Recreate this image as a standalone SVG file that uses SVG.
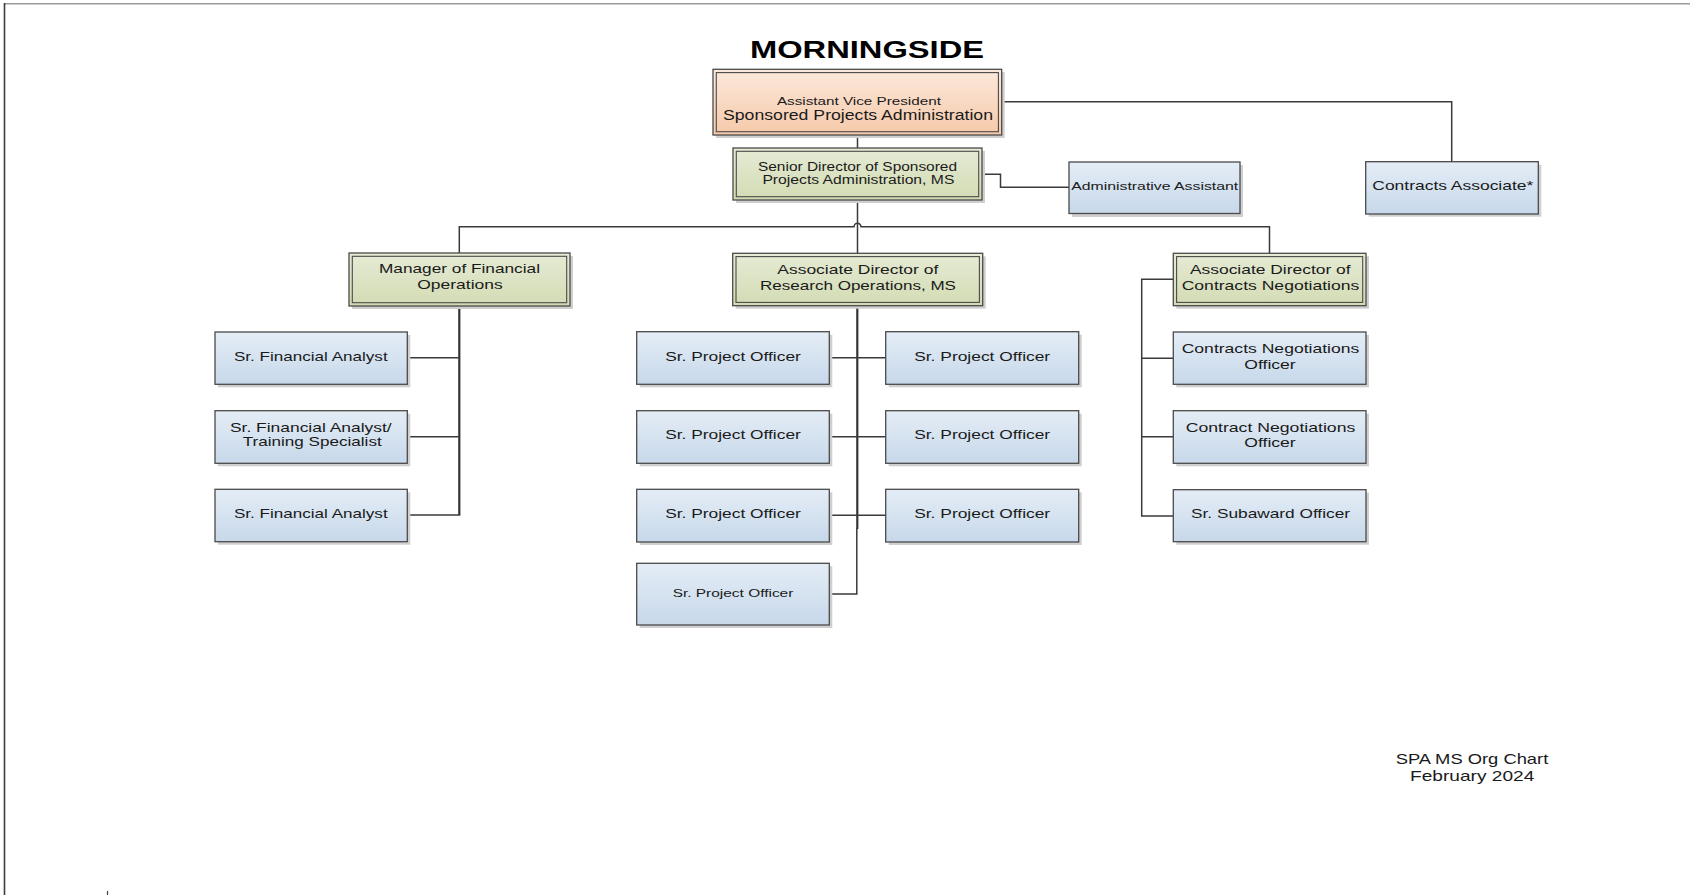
<svg xmlns="http://www.w3.org/2000/svg" width="1690" height="895" viewBox="0 0 1690 895">
<defs>
<linearGradient id="gOr" x1="0" y1="0" x2="0" y2="1"><stop offset="0" stop-color="#fce9dc"/><stop offset="1" stop-color="#f5c9a9"/></linearGradient>
<linearGradient id="gGr" x1="0" y1="0" x2="0" y2="1"><stop offset="0" stop-color="#e6ebd5"/><stop offset="1" stop-color="#d2dbb3"/></linearGradient>
<linearGradient id="gBl" x1="0" y1="0" x2="0" y2="1"><stop offset="0" stop-color="#e4edf6"/><stop offset="1" stop-color="#c7d8ea"/></linearGradient>
</defs>
<style>
.sh{fill:#cfcfcf}
.o{stroke:#4a4a4a;stroke-width:1.3}
.in{fill:none;stroke:#4a4a4a;stroke-width:1.1}
.or{fill:url(#gOr)}
.gr{fill:url(#gGr)}
.bl{fill:url(#gBl)}
text{font-family:"Liberation Sans",Arial,sans-serif;fill:#1a1a1a;text-anchor:middle}
.t13{font-size:13px}
.t12{font-size:12px}
.t11{font-size:11px}
.cn{fill:none;stroke:#3a3a3a;stroke-width:1.5}
.cnb{fill:none;stroke:#333;stroke-width:2.2}
</style>
<rect x="0" y="0" width="1690" height="895" fill="#ffffff"/>
<g id="frame">
<line x1="4" y1="3.8" x2="1690" y2="3.8" stroke="#9a9a9a" stroke-width="1.5"/>
<line x1="4.5" y1="3" x2="4.5" y2="895" stroke="#3c3c3c" stroke-width="1.6"/>
<line x1="107.5" y1="891" x2="107.5" y2="895" stroke="#3c3c55" stroke-width="1.2"/>
</g>
<text id="title" x="867" y="58" font-size="24" font-weight="bold" textLength="234" lengthAdjust="spacingAndGlyphs" style="fill:#000">MORNINGSIDE</text>

<g id="connectors">
<path class="cn" d="M857.5,135 V148"/>
<path class="cn" d="M1001.7,101.7 H1451.7 V161.7"/>
<path class="cn" d="M982,174.3 H1000.5 V187.3 H1069"/>
<path class="cn" d="M857.5,200 V253.3"/>
<path class="cn" d="M459.3,253 V226.7 H854 A3.5,3.5 0 0 1 861,226.7 H1269.5 V253.3"/>
<path class="cnb" d="M459.3,306 V515"/>
<path class="cn" d="M407.3,357.7 H459.3 M407.3,436.7 H459.3 M407.3,515 H460.3"/>
<path class="cnb" d="M857.3,305.7 V529"/>
<path class="cn" d="M856.8,528 V594 H829.3"/>
<path class="cn" d="M829.3,357.7 H885.7 M829.3,436.7 H885.7 M829.3,515.3 H885.7"/>
<path class="cn" d="M1173.3,279.3 H1141.7 V516 H1173.3 M1141.7,358.3 H1173.3 M1141.7,436.7 H1173.3"/>
</g>

<g id="avp">
<rect class="sh" x="716" y="72" width="288.7" height="66"/>
<rect class="o or" x="713" y="69.3" width="288.7" height="65.7"/>
<rect class="in" x="716.3" y="72.6" width="282.1" height="59.1"/>
<text class="t11" x="858.9" y="105" textLength="164" lengthAdjust="spacingAndGlyphs">Assistant Vice President</text>
<text x="858" y="120" font-size="14" textLength="270" lengthAdjust="spacingAndGlyphs">Sponsored Projects Administration</text>
</g>

<g id="senior">
<rect class="sh" x="736" y="151" width="249" height="52"/>
<rect class="o gr" x="733" y="148" width="249" height="52"/>
<rect class="in" x="736.3" y="151.3" width="242.4" height="45.4"/>
<text class="t12" x="857.5" y="171" textLength="199" lengthAdjust="spacingAndGlyphs">Senior Director of Sponsored</text>
<text class="t12" x="858.4" y="184" textLength="192" lengthAdjust="spacingAndGlyphs">Projects Administration, MS</text>
</g>

<g id="admin">
<rect class="sh" x="1072" y="165" width="171" height="52"/>
<rect class="o bl" x="1069" y="162" width="171" height="51.5"/>
<text class="t11" x="1154.7" y="190" textLength="167" lengthAdjust="spacingAndGlyphs">Administrative Assistant</text>
</g>

<g id="contracts-associate">
<rect class="sh" x="1368.7" y="164.7" width="172.6" height="52"/>
<rect class="o bl" x="1365.7" y="161.7" width="172.6" height="52.3"/>
<text class="t13" x="1452.8" y="190" textLength="161" lengthAdjust="spacingAndGlyphs">Contracts Associate*</text>
</g>

<g id="mfo">
<rect class="sh" x="352" y="256" width="221" height="53"/>
<rect class="o gr" x="349" y="253" width="221" height="53"/>
<rect class="in" x="352.3" y="256.3" width="214.4" height="46.4"/>
<text class="t13" x="459.5" y="273.3" textLength="161" lengthAdjust="spacingAndGlyphs">Manager of Financial</text>
<text class="t13" x="460" y="289.3" textLength="85.4" lengthAdjust="spacingAndGlyphs">Operations</text>
</g>

<g id="sfa1">
<rect class="sh" x="218" y="335" width="192.3" height="52.3"/>
<rect class="o bl" x="215" y="332" width="192.3" height="52.3"/>
<text class="t13" x="310.8" y="360.7" textLength="153.7" lengthAdjust="spacingAndGlyphs">Sr. Financial Analyst</text>
</g>
<g id="sfa2">
<rect class="sh" x="218" y="413.7" width="192.3" height="52.6"/>
<rect class="o bl" x="215" y="410.7" width="192.3" height="52.6"/>
<text class="t13" x="310.8" y="431.7" textLength="161.7" lengthAdjust="spacingAndGlyphs">Sr. Financial Analyst/</text>
<text class="t13" x="312.2" y="446" textLength="139" lengthAdjust="spacingAndGlyphs">Training Specialist</text>
</g>
<g id="sfa3">
<rect class="sh" x="218" y="492.3" width="192.3" height="52.4"/>
<rect class="o bl" x="215" y="489.3" width="192.3" height="52.4"/>
<text class="t13" x="310.8" y="518.3" textLength="153.7" lengthAdjust="spacingAndGlyphs">Sr. Financial Analyst</text>
</g>

<g id="adro">
<rect class="sh" x="735.7" y="256.3" width="250" height="52.4"/>
<rect class="o gr" x="732.7" y="253.3" width="250" height="52.4"/>
<rect class="in" x="736" y="256.6" width="243.4" height="45.8"/>
<text class="t13" x="857.8" y="274" textLength="161" lengthAdjust="spacingAndGlyphs">Associate Director of</text>
<text class="t13" x="858" y="290" textLength="196" lengthAdjust="spacingAndGlyphs">Research Operations, MS</text>
</g>

<g id="po-l1">
<rect class="sh" x="639.7" y="334.7" width="192.6" height="52.6"/>
<rect class="o bl" x="636.7" y="331.7" width="192.6" height="52.6"/>
<text class="t13" x="733" y="360.7" textLength="135.7" lengthAdjust="spacingAndGlyphs">Sr. Project Officer</text>
</g>
<g id="po-l2">
<rect class="sh" x="639.7" y="413.7" width="192.6" height="52.6"/>
<rect class="o bl" x="636.7" y="410.7" width="192.6" height="52.6"/>
<text class="t13" x="733" y="439.3" textLength="135.7" lengthAdjust="spacingAndGlyphs">Sr. Project Officer</text>
</g>
<g id="po-l3">
<rect class="sh" x="639.7" y="492.3" width="192.6" height="52.7"/>
<rect class="o bl" x="636.7" y="489.3" width="192.6" height="52.7"/>
<text class="t13" x="733" y="517.7" textLength="135.7" lengthAdjust="spacingAndGlyphs">Sr. Project Officer</text>
</g>
<g id="po-l4">
<rect class="sh" x="639.7" y="566.3" width="192.6" height="61.7"/>
<rect class="o bl" x="636.7" y="563.3" width="192.6" height="61.7"/>
<text class="t11" x="733" y="597.3" textLength="120.7" lengthAdjust="spacingAndGlyphs">Sr. Project Officer</text>
</g>
<g id="po-r1">
<rect class="sh" x="888.7" y="334.7" width="193" height="52.6"/>
<rect class="o bl" x="885.7" y="331.7" width="193" height="52.6"/>
<text class="t13" x="982.2" y="360.7" textLength="136" lengthAdjust="spacingAndGlyphs">Sr. Project Officer</text>
</g>
<g id="po-r2">
<rect class="sh" x="888.7" y="413.7" width="193" height="52.6"/>
<rect class="o bl" x="885.7" y="410.7" width="193" height="52.6"/>
<text class="t13" x="982.2" y="439.3" textLength="136" lengthAdjust="spacingAndGlyphs">Sr. Project Officer</text>
</g>
<g id="po-r3">
<rect class="sh" x="888.7" y="492.3" width="193" height="52.7"/>
<rect class="o bl" x="885.7" y="489.3" width="193" height="52.7"/>
<text class="t13" x="982.2" y="517.7" textLength="136" lengthAdjust="spacingAndGlyphs">Sr. Project Officer</text>
</g>

<g id="adcn">
<rect class="sh" x="1176.3" y="256.3" width="192.7" height="52.4"/>
<rect class="o gr" x="1173.3" y="253.3" width="192.7" height="52.4"/>
<rect class="in" x="1176.6" y="256.6" width="186.1" height="45.8"/>
<text class="t13" x="1270.3" y="274" textLength="160.7" lengthAdjust="spacingAndGlyphs">Associate Director of</text>
<text class="t13" x="1270.5" y="290" textLength="177.6" lengthAdjust="spacingAndGlyphs">Contracts Negotiations</text>
</g>
<g id="cno1">
<rect class="sh" x="1176.3" y="335" width="192.7" height="52.3"/>
<rect class="o bl" x="1173.3" y="332" width="192.7" height="52.3"/>
<text class="t13" x="1270.5" y="353.3" textLength="177.6" lengthAdjust="spacingAndGlyphs">Contracts Negotiations</text>
<text class="t13" x="1270" y="369.3" textLength="51.4" lengthAdjust="spacingAndGlyphs">Officer</text>
</g>
<g id="cno2">
<rect class="sh" x="1176.3" y="413.7" width="192.7" height="52.6"/>
<rect class="o bl" x="1173.3" y="410.7" width="192.7" height="52.6"/>
<text class="t13" x="1270.5" y="431.7" textLength="169.6" lengthAdjust="spacingAndGlyphs">Contract Negotiations</text>
<text class="t13" x="1270" y="446.7" textLength="51.4" lengthAdjust="spacingAndGlyphs">Officer</text>
</g>
<g id="subaward">
<rect class="sh" x="1176.3" y="492.7" width="192.7" height="52"/>
<rect class="o bl" x="1173.3" y="489.7" width="192.7" height="52"/>
<text class="t13" x="1270.5" y="518.3" textLength="159" lengthAdjust="spacingAndGlyphs">Sr. Subaward Officer</text>
</g>

<g id="footer">
<text x="1472" y="764.3" font-size="15" textLength="152.6" lengthAdjust="spacingAndGlyphs">SPA MS Org Chart</text>
<text x="1472.2" y="781" font-size="15" textLength="124.3" lengthAdjust="spacingAndGlyphs">February 2024</text>
</g>
</svg>
